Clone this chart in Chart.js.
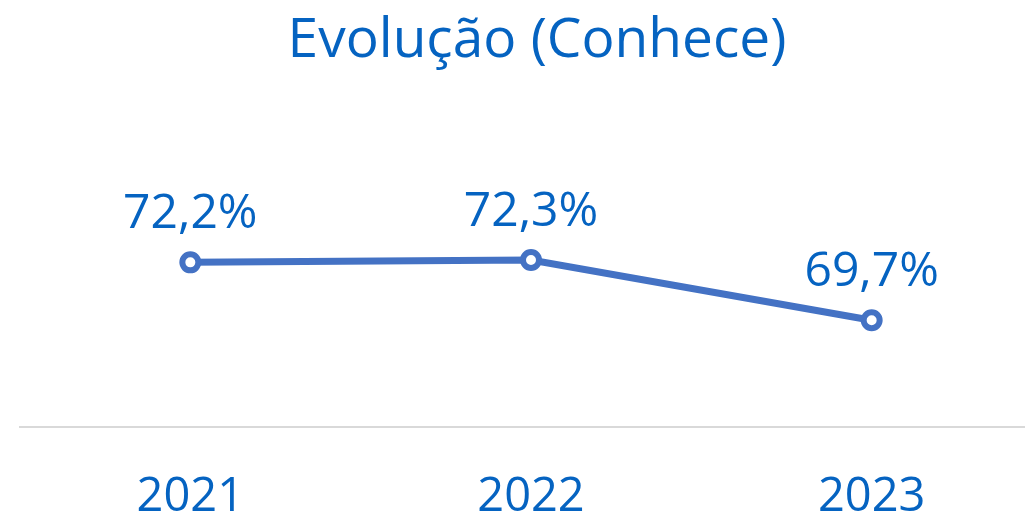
<!DOCTYPE html>
<html lang="pt">
<head>
    <meta charset="UTF-8">
    <title>Evolução (Conhece)</title>
    <script src="https://cdn.jsdelivr.net/npm/chart.js"></script>
    <style>
        html, body { margin: 0; padding: 0; background: #fff; overflow: hidden; }
        #wrap { width: 1056px; height: 569px; }
    </style>
</head>
<body>
<div id="wrap"><canvas id="evo-chart"></canvas></div>
<script>
    const years = ['2021', '2022', '2023'];
    const conhece = [72.2, 72.3, 69.7];
    const titleText = 'Evolução (Conhece)';

    const blueText = '#0563C1';
    const lineBlue = '#4472C4';
    const fontFamily = '"Open Sans", sans-serif';

    // simple label plugin, draws the % value above every point
    const pointLabels = {
        id: 'pointLabels',
        afterDatasetsDraw(chart) {
            const ctx = chart.ctx;
            const meta = chart.getDatasetMeta(0);
            ctx.save();
            ctx.font = '48px ' + fontFamily;
            ctx.fillStyle = blueText;
            ctx.textAlign = 'center';
            ctx.textBaseline = 'middle';
            meta.data.forEach((pt, i) => {
                const txt = conhece[i].toFixed(1).replace('.', ',') + '%';
                ctx.fillText(txt, pt.x, pt.y - 48);
            });
            ctx.restore();
        }
    };

    const ctx = document.getElementById('evo-chart').getContext('2d');
    new Chart(ctx, {
        type: 'line',
        data: {
            labels: years,
            datasets: [{
                label: 'Conhece',
                data: conhece,
                borderColor: lineBlue,
                borderWidth: 7,
                pointRadius: 8,
                pointBorderWidth: 6,
                pointBackgroundColor: '#ffffff',
                pointBorderColor: lineBlue,
                tension: 0
            }]
        },
        options: {
            responsive: true,
            maintainAspectRatio: false,
            animation: false,
            layout: { padding: { left: 20, right: 2, top: 0, bottom: 0 } },
            plugins: {
                legend: { display: false },
                tooltip: { enabled: false },
                title: {
                    display: true,
                    text: titleText,
                    color: blueText,
                    font: { family: fontFamily, size: 55, weight: 'normal' },
                    padding: { top: 8, bottom: 75 }
                }
            },
            scales: {
                x: {
                    offset: true,
                    grid: { display: false, drawTicks: false },
                    border: { display: true, color: '#d9d9d9', width: 2 },
                    ticks: {
                        color: blueText,
                        padding: 43,
                        font: { family: fontFamily, size: 47 }
                    }
                },
                y: {
                    display: false,
                    min: 65.1,
                    max: 77.1
                }
            }
        },
        plugins: [pointLabels]
    });
</script>
</body>
</html>
